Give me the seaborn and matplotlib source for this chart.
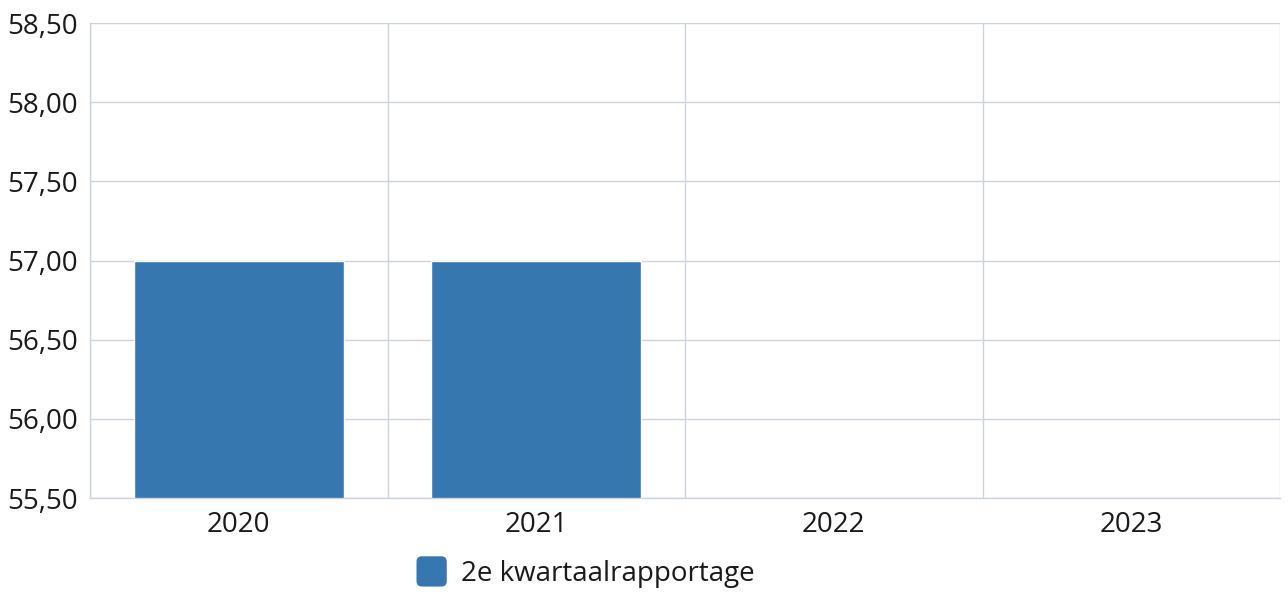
import matplotlib
matplotlib.use("Agg")
import matplotlib.pyplot as plt
import seaborn as sns
import pandas as pd
import numpy as np
from matplotlib.patches import FancyBboxPatch, Patch
from matplotlib.legend_handler import HandlerPatch
from matplotlib.ticker import FuncFormatter, MultipleLocator

categories = ["2020", "2021", "2022", "2023"]
values = [57.00, 57.00, np.nan, np.nan]
series_name = "2e kwartaalrapportage"

sns.set_style("white")
plt.rcParams["font.family"] = ["Open Sans", "DejaVu Sans"]

bar_color = "#3777b0"
grid_color = "#ccd3de"

df = pd.DataFrame({"jaar": categories, "waarde": values, "serie": series_name})

fig = plt.figure(figsize=(12.88, 5.94), dpi=100)
ax = fig.add_axes([90/1288, 1-498/594, (1280-90)/1288, (498-23)/594])

sns.barplot(data=df, x="jaar", y="waarde", order=categories, color=bar_color,
            width=0.706, saturation=1, ax=ax, errorbar=None)

ax.set_ylim(55.5, 58.5)
ax.set_xlim(-0.5, 3.5)
ax.yaxis.set_major_locator(MultipleLocator(0.5))
ax.yaxis.set_major_formatter(FuncFormatter(lambda v, p: f"{v:.2f}".replace(".", ",")))
ax.set_xticks(range(len(categories)))
ax.set_xticks(np.arange(-0.5, len(categories), 1.0), minor=True)
ax.grid(True, axis="y", which="major", color=grid_color, linewidth=1)
ax.grid(True, axis="x", which="minor", color=grid_color, linewidth=1)
ax.grid(False, axis="x", which="major")
ax.set_axisbelow(True)
ax.tick_params(axis="both", which="both", length=0, labelsize=20, colors="#1a1a1a")
ax.tick_params(axis="x", pad=9)
ax.tick_params(axis="y", pad=9)
ax.set_xlabel("")
ax.set_ylabel("")
for s in ["top", "right"]:
    ax.spines[s].set_visible(False)
for s in ["left", "bottom"]:
    ax.spines[s].set_color(grid_color)
    ax.spines[s].set_linewidth(1)


class RoundHandler(HandlerPatch):
    def create_artists(self, legend, orig_handle, xdescent, ydescent, width, height, fontsize, trans):
        size = min(width, height)
        p = FancyBboxPatch((-xdescent + (width - size) / 2, -ydescent + (height - size) / 2), size, size,
                           boxstyle=f"round,pad=0,rounding_size={size*0.18}",
                           facecolor=orig_handle.get_facecolor(), edgecolor="none", transform=trans)
        return [p]


handle = Patch(facecolor=bar_color, label=series_name)
fig.legend(handles=[handle], labels=[series_name], loc="center",
           bbox_to_anchor=(584/1288, 1-572/594), frameon=False, fontsize=20,
           handler_map={Patch: RoundHandler()}, handlelength=1.3, handleheight=1.3,
           handletextpad=0.4, labelcolor="#1a1a1a")

fig.savefig("out.png", dpi=100)
